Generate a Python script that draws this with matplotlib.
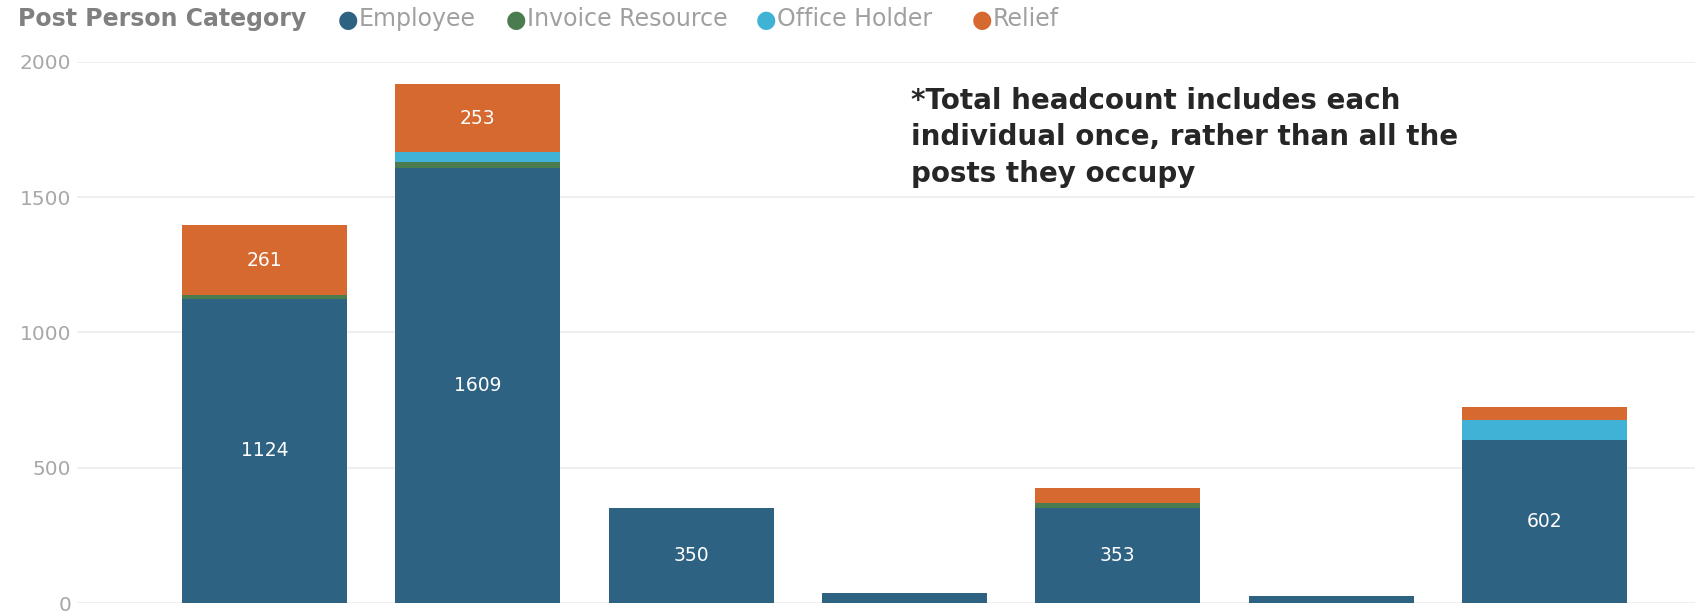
import matplotlib
matplotlib.use("Agg")
import matplotlib.pyplot as plt
import numpy as np

# Headcount per post group, stacked by post person category
categories = ["Group 1", "Group 2", "Group 3", "Group 4", "Group 5", "Group 6", "Group 7"]
employee = [1124, 1609, 350, 37, 353, 26, 602]
invoice_resource = [13, 20, 0, 0, 15, 0, 0]
office_holder = [0, 37, 0, 0, 0, 0, 74]
relief = [261, 253, 0, 0, 59, 0, 48]

series_names = ["Employee", "Invoice Resource", "Office Holder", "Relief"]
series_colors = ["#2e6283", "#4b7c4f", "#3fb2d6", "#d5692f"]
y_ticks = [0, 500, 1000, 1500, 2000]

note = ("*Total headcount includes each\n"
        "individual once, rather than all the\n"
        "posts they occupy")

fig = plt.figure(figsize=(17, 6.15), dpi=100)
ax = fig.add_axes([0.0453, 0.0195, 0.9518, 0.8797])

x = np.arange(len(categories))
bottom = np.zeros(len(categories))
for name, vals, color in zip(series_names,
                             [employee, invoice_resource, office_holder, relief],
                             series_colors):
    vals = np.asarray(vals, dtype=float)
    bars = ax.bar(x, vals, width=0.774, bottom=bottom, color=color, zorder=2)
    # only segments tall enough get a value label
    labels = [f"{v:.0f}" if v >= 100 else "" for v in vals]
    ax.bar_label(bars, labels=labels, label_type="center", color="white",
                 fontsize=13.5)
    bottom += vals

ax.set_xlim(-0.879, 6.706)
ax.set_ylim(0, 2000)
ax.set_yticks(y_ticks)
ax.set_yticklabels([str(t) for t in y_ticks])
ax.set_xticks([])
ax.tick_params(axis="y", length=0, pad=4, labelsize=14.5, labelcolor="#a8a8a8")
ax.grid(axis="y", color="#ececec", linewidth=1.2, zorder=0)
for spine in ax.spines.values():
    spine.set_visible(False)

# Legend row across the top
fig.text(18 / 1700, 1 - 19 / 615, "Post Person Category", fontsize=17,
         fontweight="bold", color="#808080", va="center", ha="left")
legend_x = [348, 516, 766, 982]
for lx, name, color in zip(legend_x, series_names, series_colors):
    fig.text(lx / 1700, 1 - 20 / 615, "\u25CF", fontsize=17, color=color,
             va="center", ha="center")
    fig.text((lx + 11) / 1700, 1 - 19 / 615, name, fontsize=17,
             color="#a0a0a0", va="center", ha="left")

fig.text(911 / 1700, 1 - 87 / 615, note, fontsize=20, fontweight="bold",
         color="#262626", va="top", ha="left", linespacing=1.38)

fig.savefig("out.png", dpi=100, facecolor="white")
